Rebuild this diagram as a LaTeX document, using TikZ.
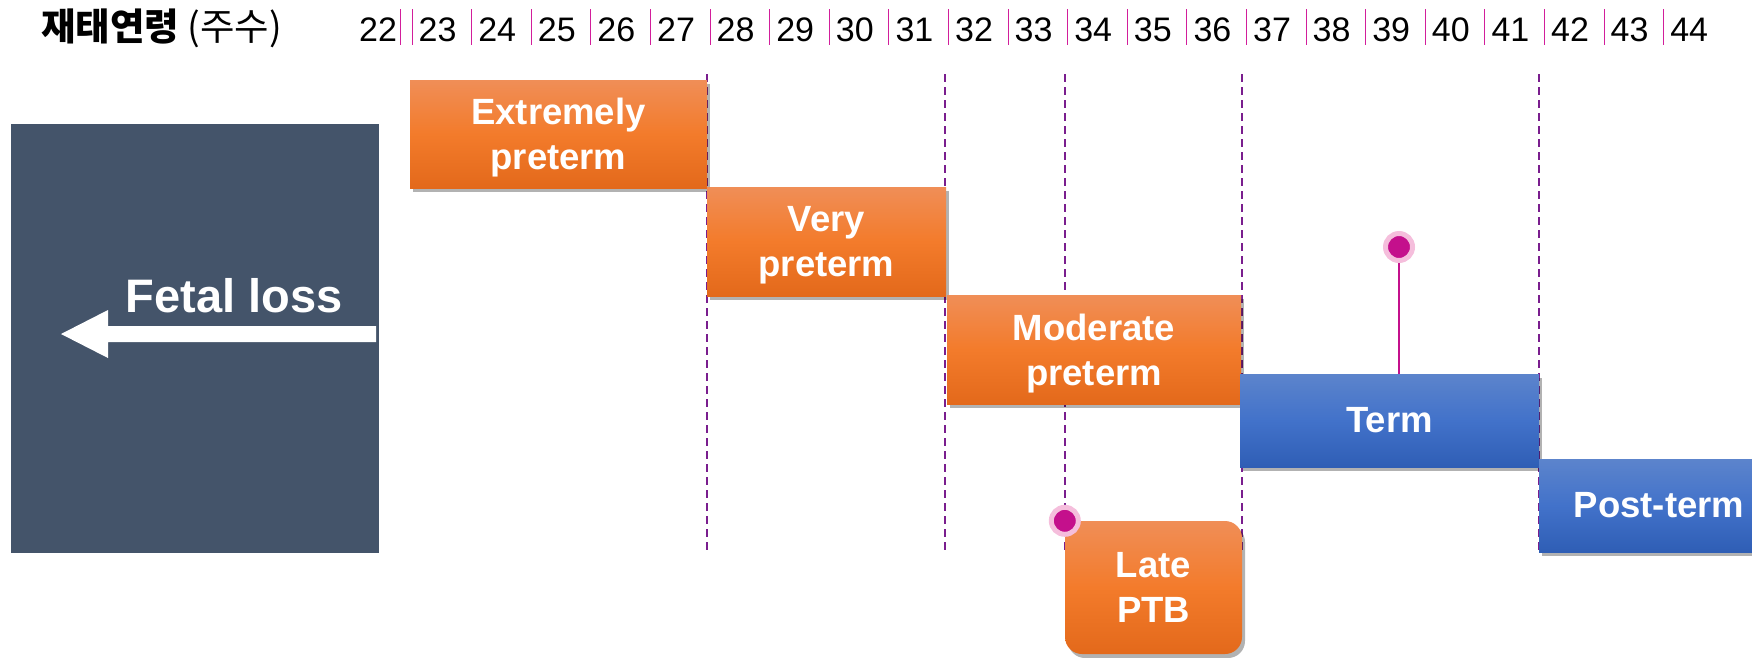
\documentclass[tikz,border=0pt]{standalone}
\usepackage{fontspec}
\setmainfont{Liberation Sans}
\newfontfamily\krfont{Noto Sans CJK KR}
\usetikzlibrary{shadows}
\definecolor{slate}{HTML}{44546A}
\definecolor{orgtop}{HTML}{F08E57}
\definecolor{orgmid}{HTML}{F37B2B}
\definecolor{orgbot}{HTML}{E3691B}
\definecolor{blutop}{HTML}{5C84CC}
\definecolor{blumid}{HTML}{4272CA}
\definecolor{blubot}{HTML}{2F5EB5}
\definecolor{pinmag}{HTML}{C4108C}
\definecolor{pinhalo}{HTML}{F5BEDC}
\definecolor{dashpurple}{HTML}{7A1E8E}
\definecolor{tickpink}{HTML}{D21E9B}
\tikzset{
  boxshadow/.style={drop shadow={shadow xshift=3pt,shadow yshift=-4pt,fill=black,opacity=0.3}},
  band/.style={inner sep=0pt, text=white, align=center,
    font=\fontsize{36.5}{45}\selectfont\bfseries, boxshadow},
  twoline/.style={text depth=-3.5pt},
  orangebox/.style={band, top color=orgtop, bottom color=orgbot, middle color=orgmid},
  bluebox/.style={band, top color=blutop, bottom color=blubot, middle color=blumid},
  numlbl/.style={font=\fontsize{34}{40}\selectfont, inner sep=0pt},
  tickline/.style={draw=tickpink, line width=1pt},
  weekline/.style={draw=dashpurple, line width=2pt, dash pattern=on 8pt off 5pt},
  pindot/.style={circle, fill=pinmag, draw=pinhalo, line width=5pt, minimum size=27pt, inner sep=0pt},
  pinstem/.style={draw=pinmag, line width=2.2pt},
}
\begin{document}
\begin{tikzpicture}[x=1pt,y=-1pt]
\useasboundingbox (0,0) rectangle (1752,657);
\clip (0,0) rectangle (1752,657);
% header
\node[anchor=west, inner sep=0pt, font=\fontsize{37.5}{42}\selectfont] (hdr) at (41,28)
  {\krfont\bfseries 재태연령 \mdseries(주수)};
\foreach \n in {22,...,44}
  \node[numlbl] (w\n) at ({378+(\n-22)*59.6},30) {\n};
\draw[tickline] (400,9) -- (400,45);
\foreach \k in {0,...,21}
  \draw[tickline] ({412+\k*59.6},9) -- ({412+\k*59.6},45);
% week boundaries
\foreach \x in {707,945,1065,1242,1539}
  \draw[weekline] (\x,74) -- (\x,553);
% fetal loss block
\node[fill=slate, anchor=north west, minimum width=368pt, minimum height=429pt, inner sep=0pt] (loss) at (11,124) {};
\fill[white] (376,326) -- (108,326) -- (108,310) -- (61,334) -- (108,358) -- (108,342) -- (376,342) -- cycle;
\node[text=white, font=\fontsize{47}{50}\selectfont\bfseries, inner sep=0pt] (losslbl) at (234,296) {Fetal loss};
% bands
\node[orangebox, twoline, minimum width=297pt, minimum height=108pt] (ext) at (558.5,134) {Extremely\\preterm};
\node[orangebox, twoline, minimum width=239pt, minimum height=109pt] (very) at (826.5,241.5) {Very\\preterm};
\node[orangebox, twoline, minimum width=294pt, minimum height=109pt] (mod) at (1094,349.5) {Moderate\\preterm};
\node[bluebox, minimum width=299pt, minimum height=93pt] (term) at (1389.5,420.5) {Term};
\node[bluebox, minimum width=240pt, minimum height=93pt] (post) at (1659,505.5) {Post-term};
\node[orangebox, rounded corners=17pt, minimum width=177pt, minimum height=133pt] (late) at (1153.5,587.5) {Late\\PTB};
% pins
\coordinate (p1c) at (1399,247);
\draw[pinstem] (p1c) -- (p1c |- term.north);
\node[pindot] (pin1) at (p1c) {};
\node[pindot] (pin2) at (late.north west) {};
\end{tikzpicture}
\end{document}
